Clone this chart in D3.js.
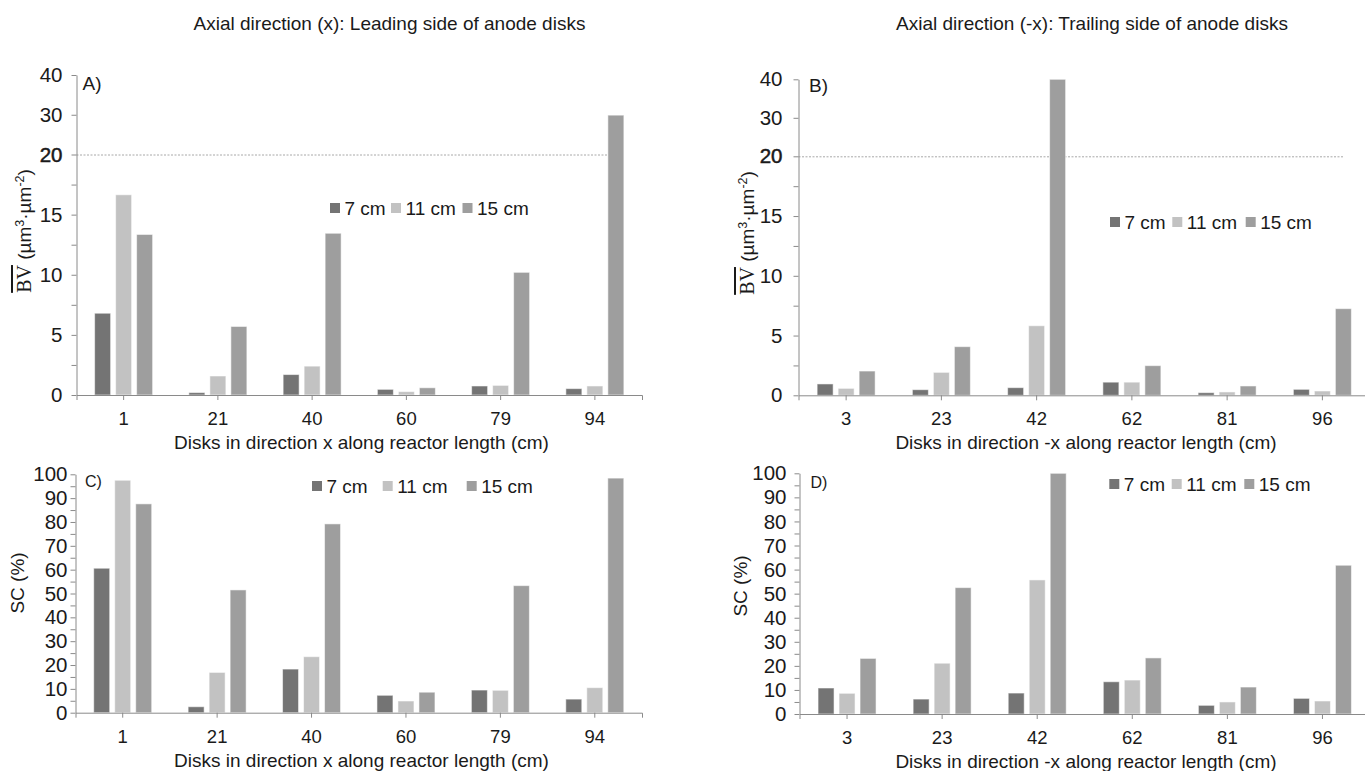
<!DOCTYPE html>
<html>
<head>
<meta charset="utf-8">
<script src="https://cdn.jsdelivr.net/npm/d3@7"></script>
<style>
  body { margin: 0; background: #fff; }
  svg { display: block; font-family: "Liberation Sans", Arial, sans-serif; }
  .axis path, .axis line { stroke: #8a8a8a; }
  .axis text { fill: #1a1a1a; font-size: 18.5px; font-family: "Liberation Sans", Arial, sans-serif; }
  .y-axis text { font-size: 20.5px; }
  .lbl { fill: #1a1a1a; font-size: 19px; }
</style>
</head>
<body>
<div id="chart"></div>
<script>
// disk positions (cm)
const disksLeading = ['1', '21', '40', '60', '79', '94'];
const disksTrailing = ['3', '23', '42', '62', '81', '96'];
const seriesNames = ['7 cm', '11 cm', '15 cm'];

// biovolume BV (µm3·µm-2)
const bvLeading7 = [6.8, 0.2, 1.7, 0.47, 0.75, 0.53];
const bvLeading11 = [16.65, 1.58, 2.4, 0.28, 0.8, 0.75];
const bvLeading15 = [13.35, 5.7, 13.45, 0.6, 10.2, 29.9];
const bvTrailing7 = [0.95, 0.47, 0.64, 1.1, 0.22, 0.5];
const bvTrailing11 = [0.58, 1.92, 5.82, 1.1, 0.28, 0.36];
const bvTrailing15 = [2.03, 4.07, 40, 2.48, 0.78, 7.25];

// surface coverage SC (%)
const scLeading7 = [60.6, 2.5, 18.3, 7.3, 9.5, 5.7];
const scLeading11 = [97.5, 16.9, 23.5, 4.9, 9.4, 10.5];
const scLeading15 = [87.6, 51.5, 79.2, 8.6, 53.3, 98.4];
const scTrailing7 = [10.8, 6.2, 8.7, 13.4, 3.6, 6.5];
const scTrailing11 = [8.6, 21.1, 55.7, 14.1, 5.0, 5.4];
const scTrailing15 = [23.1, 52.5, 100, 23.3, 11.2, 61.8];

const bvTicks = [0, 2.5, 5, 7.5, 10, 12.5, 15, 17.5, 20, 30, 40];
const bvLabels = [0, 5, 10, 15, 20, 30, 40];
const scTicks = d3.range(0, 101, 5);
const scLabels = d3.range(0, 101, 10);

const colors = ['#747474', '#c2c2c2', '#9e9e9e'];

const svg = d3.select('#chart').append('svg')
    .attr('width', 1365)
    .attr('height', 771);

// titles
svg.append('text').attr('class', 'lbl')
    .attr('x', 389.5).attr('y', 30).attr('text-anchor', 'middle')
    .text('Axial direction (x): Leading side of anode disks');
svg.append('text').attr('class', 'lbl')
    .attr('x', 1092).attr('y', 30).attr('text-anchor', 'middle')
    .text('Axial direction (-x): Trailing side of anode disks');

function drawPanel(cfg) {
  const xScale = d3.scaleBand()
      .domain(cfg.categories)
      .range(cfg.xRange)
      .padding(0);

  const inner = d3.scaleBand()
      .domain(seriesNames)
      .range([-29, 29])
      .paddingInner(5 / 21);

  const yScale = d3.scaleLinear()
      .domain(cfg.yDomain)
      .range(cfg.yRange);

  const g = svg.append('g');

  // 20 reference line for broken axis
  if (cfg.refLineEnd) {
    g.append('line')
        .attr('x1', cfg.xRange[0]).attr('x2', cfg.refLineEnd)
        .attr('y1', yScale(20) + 0.5).attr('y2', yScale(20) + 0.5)
        .attr('stroke', '#a8a8a8')
        .attr('stroke-dasharray', '2,1.5')
        .attr('stroke-width', 1);
  }

  const rows = [];
  cfg.categories.forEach((c, i) => {
    seriesNames.forEach((s, j) => {
      rows.push({cat: c, series: s, idx: j, value: cfg.series[j][i]});
    });
  });

  g.selectAll('.bar')
      .data(rows)
      .join('rect')
      .attr('class', 'bar')
      .attr('x', d => xScale(d.cat) + xScale.bandwidth() / 2 + inner(d.series))
      .attr('width', inner.bandwidth())
      .attr('y', d => yScale(d.value))
      .attr('height', d => yScale(0) - yScale(d.value))
      .attr('fill', d => colors[d.idx])
      .attr('stroke', 'rgba(255,255,255,0.55)')
      .attr('stroke-width', 1);

  const yAxis = d3.axisLeft(yScale)
      .tickValues(cfg.ticks)
      .tickSize(5)
      .tickSizeOuter(0)
      .tickPadding(cfg.yPad)
      .tickFormat(d => cfg.labels.includes(d) ? d : '');

  const yAxisG = g.append('g')
      .attr('class', 'axis y-axis')
      .attr('transform', `translate(${cfg.xRange[0]},0)`)
      .call(yAxis);
  yAxisG.selectAll('.tick text')
      .filter(d => d === 20 && cfg.refLineEnd)
      .attr('stroke', '#1a1a1a').attr('stroke-width', 0.5);

  const xAxis = d3.axisBottom(xScale)
      .tickSize(5)
      .tickSizeOuter(5)
      .tickPadding(12);

  g.append('g')
      .attr('class', 'axis x-axis')
      .attr('transform', `translate(0,${yScale(0)})`)
      .call(xAxis);

  // axis titles
  g.append('text').attr('class', 'lbl')
      .attr('x', cfg.xTitleX).attr('y', yScale(0) + 54)
      .attr('text-anchor', 'middle')
      .text(cfg.xTitle);

  const yt = g.append('text').attr('class', 'lbl')
      .attr('transform', `translate(${cfg.yTitlePos[0]},${cfg.yTitlePos[1]}) rotate(-90)`)
      .attr('text-anchor', 'middle');
  if (cfg.bv) {
    yt.append('tspan')
        .style('font-family', '"Liberation Serif", "Times New Roman", serif')
        .style('font-size', '20px')
        .style('text-decoration', 'overline')
        .text('BV');
    yt.append('tspan').text(' (µm');
    yt.append('tspan').attr('dy', -7).style('font-size', '12.5px').text('3');
    yt.append('tspan').attr('dy', 7).text('·µm');
    yt.append('tspan').attr('dy', -7).style('font-size', '12.5px').text('-2');
    yt.append('tspan').attr('dy', 7).text(')');
  } else {
    yt.text('SC (%)');
  }

  // panel letter
  g.append('text').attr('class', 'lbl')
      .attr('x', cfg.letterPos[0]).attr('y', cfg.letterPos[1])
      .style('font-size', cfg.letterSize + 'px')
      .text(cfg.letter);

  // legend
  const leg = g.append('g');
  seriesNames.forEach((s, j) => {
    leg.append('rect')
        .attr('x', cfg.legendX[j]).attr('y', cfg.legendY - 5)
        .attr('width', 10).attr('height', 10)
        .attr('fill', colors[j]);
    leg.append('text').attr('class', 'lbl')
        .attr('x', cfg.legendX[j] + 14.5).attr('y', cfg.legendY + 6.5)
        .text(s);
  });
}

drawPanel({
  categories: disksLeading,
  series: [bvLeading7, bvLeading11, bvLeading15],
  xRange: [76.5, 642],
  yDomain: [0, 20, 40], yRange: [395, 154.5, 75],
  ticks: bvTicks, labels: bvLabels, yPad: 9,
  refLineEnd: 622,
  bv: true,
  xTitle: 'Disks in direction x along reactor length (cm)', xTitleX: 361.5,
  yTitlePos: [31, 231],
  letter: 'A)', letterPos: [82.5, 90], letterSize: 19,
  legendX: [330, 391, 462.5], legendY: 208
});

drawPanel({
  categories: disksTrailing,
  series: [bvTrailing7, bvTrailing11, bvTrailing15],
  xRange: [798.5, 1370],
  yDomain: [0, 20, 40], yRange: [395.3, 156.3, 79.3],
  ticks: bvTicks, labels: bvLabels, yPad: 11,
  refLineEnd: 1343,
  bv: true,
  xTitle: 'Disks in direction -x along reactor length (cm)', xTitleX: 1086,
  yTitlePos: [754, 233],
  letter: 'B)', letterPos: [809, 92], letterSize: 19,
  legendX: [1110, 1172.3, 1245.7], legendY: 222
});

drawPanel({
  categories: disksLeading,
  series: [scLeading7, scLeading11, scLeading15],
  xRange: [75.5, 642],
  yDomain: [0, 100], yRange: [712.7, 474.3],
  ticks: scTicks, labels: scLabels, yPad: 3,
  refLineEnd: null,
  bv: false,
  xTitle: 'Disks in direction x along reactor length (cm)', xTitleX: 361.5,
  yTitlePos: [24, 583],
  letter: 'C)', letterPos: [85, 487], letterSize: 16,
  legendX: [312, 382.7, 466.7], legendY: 486
});

drawPanel({
  categories: disksTrailing,
  series: [scTrailing7, scTrailing11, scTrailing15],
  xRange: [799.5, 1370],
  yDomain: [0, 100], yRange: [714, 473.3],
  ticks: scTicks, labels: scLabels, yPad: 8,
  refLineEnd: null,
  bv: false,
  xTitle: 'Disks in direction -x along reactor length (cm)', xTitleX: 1086,
  yTitlePos: [747, 586],
  letter: 'D)', letterPos: [810.5, 488], letterSize: 16,
  legendX: [1109.3, 1171.7, 1244.3], legendY: 484
});
</script>
</body>
</html>
